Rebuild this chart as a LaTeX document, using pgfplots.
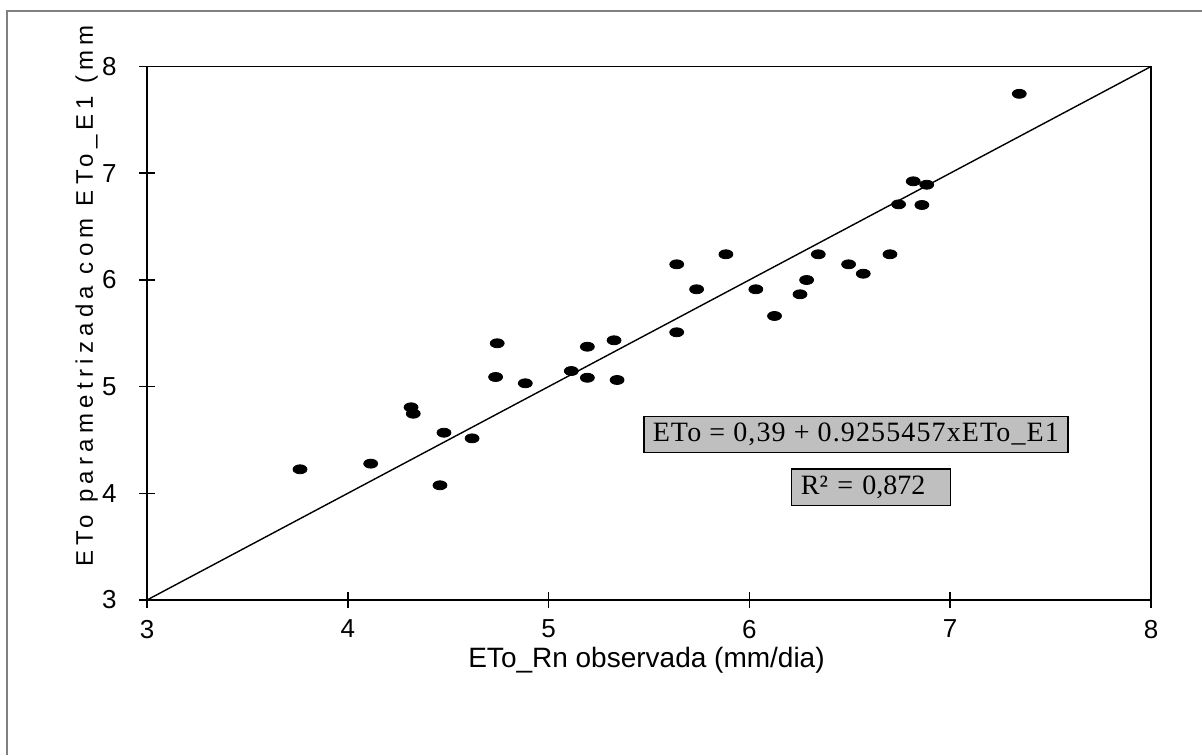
\documentclass[border=0pt]{standalone}
\usepackage{fontspec}
\setmainfont{Liberation Sans}
\newfontfamily\timesfont{Liberation Serif}
\newfontfamily\eqfont[LetterSpace=4]{Liberation Serif}
\newfontfamily\ylabfont[LetterSpace=22]{Liberation Sans}
\usepackage{pgfplots}
\pgfplotsset{compat=1.18}

\pgfplotstableread{
x     y
3.762 4.225
4.114 4.278
4.315 4.806
4.326 4.746
4.459 4.075
4.479 4.568
4.619 4.515
4.736 5.090
4.744 5.406
4.884 5.031
5.113 5.146
5.193 5.374
5.193 5.083
5.326 5.434
5.341 5.062
5.638 6.146
5.638 5.509
5.737 5.912
5.883 6.240
6.032 5.912
6.125 5.662
6.252 5.865
6.285 5.999
6.343 6.240
6.494 6.146
6.567 6.058
6.700 6.240
6.743 6.708
6.816 6.924
6.859 6.702
6.883 6.892
7.344 7.744
}\etodata

\begin{document}
\begin{tikzpicture}
\useasboundingbox (0,0) rectangle (601pt,377.5pt);
% outer chart frame, only left and top edges show
\draw[gray, line width=0.6pt] (3.5pt,0pt) -- (3.5pt,372pt) -- (601pt,372pt);
\begin{axis}[
  at={(73.5pt,77.5pt)}, anchor=south west,
  scale only axis,
  width=502pt, height=266.75pt,
  xmin=3, xmax=8, ymin=3, ymax=8,
  xtick={3,4,5,6,7,8}, ytick={3,4,5,6,7,8},
  tick pos=left,
  tick align=center,
  major tick length=8pt,
  tick style={black, line width=0.8pt},
  axis line style={black, line width=0.9pt},
  /pgf/number format/assume math mode=true,
  xticklabel style={font=\fontsize{13}{15}\selectfont, yshift=-2.5pt},
  yticklabel style={font=\fontsize{13}{15}\selectfont, xshift=-7.7pt},
  xlabel={ETo\_Rn observada (mm/dia)},
  xlabel style={at={(axis description cs:0.4975,-0.127)}, anchor=base,
    font=\fontsize{14}{16}\selectfont},
  ylabel={ETo parametrizada com ETo\_E1 (mm},
  ylabel style={at={(axis description cs:-0.0538,0.0619)}, anchor=base west,
    inner sep=0pt, font=\ylabfont\fontsize{12}{14}\selectfont},
  clip=false,
]
\addplot[black, line width=0.7pt] coordinates {(3,3) (8,8)};
\addplot[only marks, mark=*, mark size=2.25pt, color=black,
  mark options={xscale=1.55}] table[x=x, y=y] {\etodata};
\node[draw=black, line width=0.8pt, fill=gray!50, anchor=west,
  inner xsep=4.5pt, minimum height=17.5pt,
  font=\eqfont\fontsize{14}{16}\selectfont]
  at (axis cs:5.470,4.551) {ETo = 0,39 + 0.9255457xETo\_E1};
\node[draw=black, line width=0.8pt, fill=gray!50, anchor=west,
  text width=70pt, align=left, inner xsep=4.7pt, minimum height=18pt,
  font=\timesfont\fontsize{14}{16}\selectfont]
  at (axis cs:6.206,4.057) {R² = 0,872};
\end{axis}
\end{tikzpicture}
\end{document}
